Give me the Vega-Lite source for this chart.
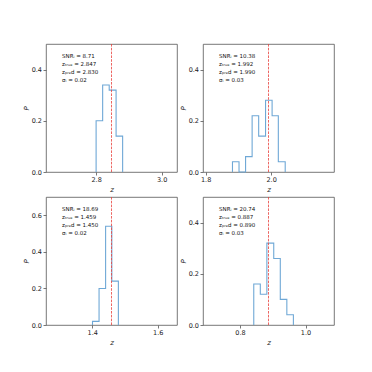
{
  "$schema": "https://vega.github.io/schema/vega-lite/v6.json",
  "background": "white",
  "padding": {"left": 21, "top": 43, "right": 5, "bottom": 5},
  "datasets": {
    "hist": [
      {"panel": 1, "i": 0, "z": 2.800, "p": 0},
      {"panel": 1, "i": 1, "z": 2.800, "p": 0.20},
      {"panel": 1, "i": 2, "z": 2.820, "p": 0.34},
      {"panel": 1, "i": 3, "z": 2.840, "p": 0.32},
      {"panel": 1, "i": 4, "z": 2.861, "p": 0.14},
      {"panel": 1, "i": 5, "z": 2.881, "p": 0},
      {"panel": 2, "i": 0, "z": 1.882, "p": 0},
      {"panel": 2, "i": 1, "z": 1.882, "p": 0.04},
      {"panel": 2, "i": 2, "z": 1.902, "p": 0},
      {"panel": 2, "i": 3, "z": 1.922, "p": 0.06},
      {"panel": 2, "i": 4, "z": 1.942, "p": 0.22},
      {"panel": 2, "i": 5, "z": 1.962, "p": 0.14},
      {"panel": 2, "i": 6, "z": 1.983, "p": 0.28},
      {"panel": 2, "i": 7, "z": 2.003, "p": 0.22},
      {"panel": 2, "i": 8, "z": 2.022, "p": 0.04},
      {"panel": 2, "i": 9, "z": 2.043, "p": 0},
      {"panel": 3, "i": 0, "z": 1.401, "p": 0},
      {"panel": 3, "i": 1, "z": 1.401, "p": 0.02},
      {"panel": 3, "i": 2, "z": 1.421, "p": 0.20},
      {"panel": 3, "i": 3, "z": 1.441, "p": 0.54},
      {"panel": 3, "i": 4, "z": 1.460, "p": 0.24},
      {"panel": 3, "i": 5, "z": 1.480, "p": 0},
      {"panel": 4, "i": 0, "z": 0.842, "p": 0},
      {"panel": 4, "i": 1, "z": 0.842, "p": 0.16},
      {"panel": 4, "i": 2, "z": 0.862, "p": 0.12},
      {"panel": 4, "i": 3, "z": 0.882, "p": 0.32},
      {"panel": 4, "i": 4, "z": 0.903, "p": 0.26},
      {"panel": 4, "i": 5, "z": 0.923, "p": 0.10},
      {"panel": 4, "i": 6, "z": 0.943, "p": 0.04},
      {"panel": 4, "i": 7, "z": 0.963, "p": 0}
    ],
    "meta": [
      {"panel": 1, "ztrue": 2.847, "tx": 2.696, "ty": 0.461, "label": "SNRᵢ = 8.71\nzₜᵣᵤₑ = 2.847\nzₚᵣₑd = 2.830\nσᵢ = 0.02"},
      {"panel": 2, "ztrue": 1.992, "tx": 1.841, "ty": 0.461, "label": "SNRᵢ = 10.38\nzₜᵣᵤₑ = 1.992\nzₚᵣₑd = 1.990\nσᵢ = 0.03"},
      {"panel": 3, "ztrue": 1.459, "tx": 1.308, "ty": 0.645, "label": "SNRᵢ = 18.69\nzₜᵣᵤₑ = 1.459\nzₚᵣₑd = 1.450\nσᵢ = 0.02"},
      {"panel": 4, "ztrue": 0.887, "tx": 0.736, "ty": 0.461, "label": "SNRᵢ = 20.74\nzₜᵣᵤₑ = 0.887\nzₚᵣₑd = 0.890\nσᵢ = 0.03"}
    ]
  },
  "columns": 2,
  "spacing": {"column": 26, "row": 25},
  "bounds": "flush",
  "concat": [
    {
      "width": 131, "height": 128,
      "layer": [
        {"data": {"name": "hist"}, "transform": [{"filter": "datum.panel == 1"}],
         "mark": {"type": "line", "interpolate": "step-after", "color": "#6fa8d6", "strokeWidth": 1.1},
         "encoding": {
           "x": {"field": "z", "type": "quantitative", "scale": {"domain": [2.647, 3.047], "nice": false, "zero": false}, "axis": {"values": [2.8, 3.0], "format": ".1f", "title": "z"}},
           "y": {"field": "p", "type": "quantitative", "scale": {"domain": [0, 0.5], "nice": false}, "axis": {"values": [0, 0.2, 0.4], "format": ".1f", "title": "P"}},
           "order": {"field": "i"}}},
        {"data": {"name": "meta"}, "transform": [{"filter": "datum.panel == 1"}],
         "mark": {"type": "rule", "color": "#e8413c", "strokeDash": [2.6, 1.2], "strokeWidth": 1, "opacity": 0.8},
         "encoding": {"x": {"field": "ztrue", "type": "quantitative"}}},
        {"data": {"name": "meta"}, "transform": [{"filter": "datum.panel == 1"}],
         "mark": {"type": "text", "align": "left", "baseline": "top", "lineBreak": "\n", "lineHeight": 8, "fontSize": 5.5, "font": "DejaVu Sans", "color": "#111"},
         "encoding": {"x": {"field": "tx", "type": "quantitative"}, "y": {"field": "ty", "type": "quantitative"}, "text": {"field": "label"}}}
      ]
    },
    {
      "width": 131, "height": 128,
      "layer": [
        {"data": {"name": "hist"}, "transform": [{"filter": "datum.panel == 2"}],
         "mark": {"type": "line", "interpolate": "step-after", "color": "#6fa8d6", "strokeWidth": 1.1},
         "encoding": {
           "x": {"field": "z", "type": "quantitative", "scale": {"domain": [1.792, 2.192], "nice": false, "zero": false}, "axis": {"values": [1.8, 2.0], "format": ".1f", "title": "z"}},
           "y": {"field": "p", "type": "quantitative", "scale": {"domain": [0, 0.5], "nice": false}, "axis": {"values": [0, 0.2, 0.4], "format": ".1f", "title": "P"}},
           "order": {"field": "i"}}},
        {"data": {"name": "meta"}, "transform": [{"filter": "datum.panel == 2"}],
         "mark": {"type": "rule", "color": "#e8413c", "strokeDash": [2.6, 1.2], "strokeWidth": 1, "opacity": 0.8},
         "encoding": {"x": {"field": "ztrue", "type": "quantitative"}}},
        {"data": {"name": "meta"}, "transform": [{"filter": "datum.panel == 2"}],
         "mark": {"type": "text", "align": "left", "baseline": "top", "lineBreak": "\n", "lineHeight": 8, "fontSize": 5.5, "font": "DejaVu Sans", "color": "#111"},
         "encoding": {"x": {"field": "tx", "type": "quantitative"}, "y": {"field": "ty", "type": "quantitative"}, "text": {"field": "label"}}}
      ]
    },
    {
      "width": 131, "height": 128,
      "layer": [
        {"data": {"name": "hist"}, "transform": [{"filter": "datum.panel == 3"}],
         "mark": {"type": "line", "interpolate": "step-after", "color": "#6fa8d6", "strokeWidth": 1.1},
         "encoding": {
           "x": {"field": "z", "type": "quantitative", "scale": {"domain": [1.259, 1.659], "nice": false, "zero": false}, "axis": {"values": [1.4, 1.6], "format": ".1f", "title": "z"}},
           "y": {"field": "p", "type": "quantitative", "scale": {"domain": [0, 0.7], "nice": false}, "axis": {"values": [0, 0.2, 0.4, 0.6], "format": ".1f", "title": "P"}},
           "order": {"field": "i"}}},
        {"data": {"name": "meta"}, "transform": [{"filter": "datum.panel == 3"}],
         "mark": {"type": "rule", "color": "#e8413c", "strokeDash": [2.6, 1.2], "strokeWidth": 1, "opacity": 0.8},
         "encoding": {"x": {"field": "ztrue", "type": "quantitative"}}},
        {"data": {"name": "meta"}, "transform": [{"filter": "datum.panel == 3"}],
         "mark": {"type": "text", "align": "left", "baseline": "top", "lineBreak": "\n", "lineHeight": 8, "fontSize": 5.5, "font": "DejaVu Sans", "color": "#111"},
         "encoding": {"x": {"field": "tx", "type": "quantitative"}, "y": {"field": "ty", "type": "quantitative"}, "text": {"field": "label"}}}
      ]
    },
    {
      "width": 131, "height": 128,
      "layer": [
        {"data": {"name": "hist"}, "transform": [{"filter": "datum.panel == 4"}],
         "mark": {"type": "line", "interpolate": "step-after", "color": "#6fa8d6", "strokeWidth": 1.1},
         "encoding": {
           "x": {"field": "z", "type": "quantitative", "scale": {"domain": [0.687, 1.087], "nice": false, "zero": false}, "axis": {"values": [0.8, 1.0], "format": ".1f", "title": "z"}},
           "y": {"field": "p", "type": "quantitative", "scale": {"domain": [0, 0.5], "nice": false}, "axis": {"values": [0, 0.2, 0.4], "format": ".1f", "title": "P"}},
           "order": {"field": "i"}}},
        {"data": {"name": "meta"}, "transform": [{"filter": "datum.panel == 4"}],
         "mark": {"type": "rule", "color": "#e8413c", "strokeDash": [2.6, 1.2], "strokeWidth": 1, "opacity": 0.8},
         "encoding": {"x": {"field": "ztrue", "type": "quantitative"}}},
        {"data": {"name": "meta"}, "transform": [{"filter": "datum.panel == 4"}],
         "mark": {"type": "text", "align": "left", "baseline": "top", "lineBreak": "\n", "lineHeight": 8, "fontSize": 5.5, "font": "DejaVu Sans", "color": "#111"},
         "encoding": {"x": {"field": "tx", "type": "quantitative"}, "y": {"field": "ty", "type": "quantitative"}, "text": {"field": "label"}}}
      ]
    }
  ],
  "config": {
    "view": {"stroke": "#555", "strokeWidth": 0.8},
    "axis": {"grid": false, "domain": false, "tickColor": "#555", "tickSize": 3, "tickWidth": 0.8,
             "labelFontSize": 6.5, "labelFont": "DejaVu Sans", "labelColor": "#222", "labelPadding": 1.5,
             "titleFont": "DejaVu Sans", "titleFontStyle": "italic", "titleFontWeight": "normal", "titleFontSize": 7, "titleColor": "#222", "titlePadding": 2}
  }
}
